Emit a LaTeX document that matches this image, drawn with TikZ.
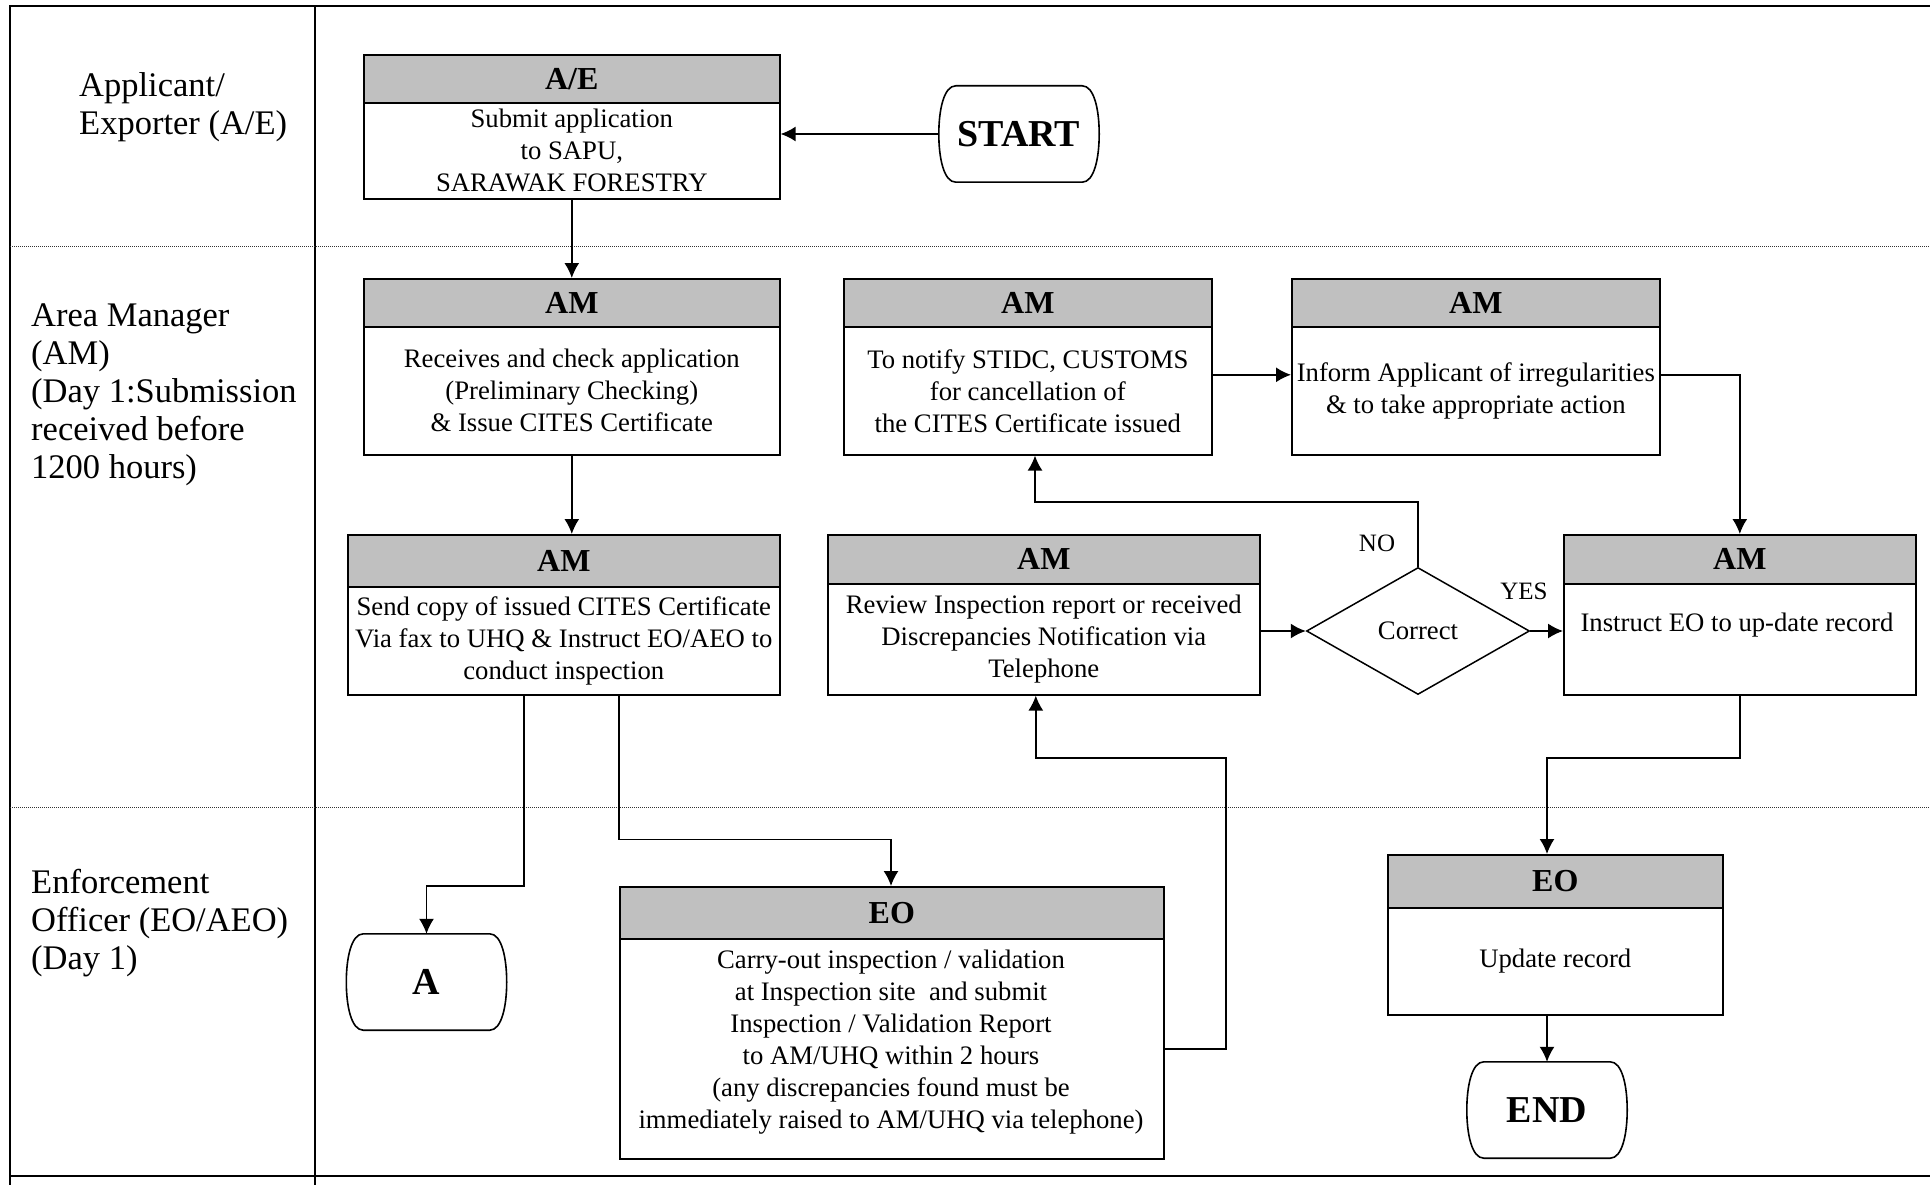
\documentclass[tikz,border=0pt]{standalone}
\usepackage{fontspec}
\setmainfont{Liberation Serif}
\usetikzlibrary{arrows.meta,shapes.geometric}
\definecolor{hgray}{RGB}{192,192,192}
\tikzset{
  hdr/.style={draw, line width=1.6pt, fill=hgray, anchor=north west, inner sep=0pt,
    font=\fontsize{32}{36}\selectfont\bfseries},
  bodybox/.style={draw, line width=1.6pt, anchor=north west, inner sep=0pt, align=center,
    font=\fontsize{26.7}{32}\selectfont},
  term/.style={inner sep=0pt, font=\fontsize{38}{42}\selectfont\bfseries},
  termline/.style={line width=1.6pt},
  conn/.style={line width=1.6pt, -{Latex[length=15pt,width=15pt]}},
  lane/.style={anchor=west, align=left, inner sep=0pt, font=\fontsize{34.5}{38}\selectfont},
  txt/.style={align=center, inner sep=0pt, font=\fontsize{26.7}{32}\selectfont},
  lbl/.style={inner sep=0pt, font=\fontsize{25}{28}\selectfont},
  frame/.style={line width=2pt},
  lanesep/.style={line width=1pt, dash pattern=on 1pt off 1pt, black!80}
}
\newcommand\mkbox[8]{%
  \node[hdr, minimum width={#3pt-#2pt}, minimum height={#5pt-#4pt}] (#1h) at (#2,#4) {#7};
  \node[bodybox, minimum width={#3pt-#2pt}, minimum height={#6pt-#5pt}] (#1) at (#2,#5) {#8};}
\newcommand\termpath[1]{%
  \draw[termline] ([xshift=17pt]#1.north west) -- ([xshift=-17pt]#1.north east)
    .. controls ([xshift=-5pt]#1.north east) and ([yshift=24pt]#1.east) .. (#1.east)
    .. controls ([yshift=-24pt]#1.east) and ([xshift=-5pt]#1.south east) .. ([xshift=-17pt]#1.south east)
    -- ([xshift=17pt]#1.south west)
    .. controls ([xshift=5pt]#1.south west) and ([yshift=-24pt]#1.west) .. (#1.west)
    .. controls ([yshift=24pt]#1.west) and ([xshift=5pt]#1.north west) .. cycle;}
\begin{document}
\begin{tikzpicture}[x=1pt,y=-1pt]
\useasboundingbox (0,0) rectangle (1930,1185);
% frame
\draw[frame] (10,1185) -- (10,6) -- (1930,6);
\draw[frame] (315,6) -- (315,1185);
\draw[frame] (10,1175.5) -- (1930,1175.5);
\draw[lanesep] (10,246) -- (1930,246);
\draw[lanesep] (10,807.5) -- (1930,807.5);
% lane labels
\node[lane] (l1) at (79,107) {Applicant/\\Exporter (A/E)};
\node[lane] (l2) at (31,395) {Area Manager\\(AM)\\(Day 1:Submission\\received before\\1200 hours)};
\node[lane] (l3) at (31,923) {Enforcement\\Officer (EO/AEO)\\(Day 1)};
% boxes
\mkbox{ae}{363}{779}{54}{102}{198}{A/E}{Submit application\\to SAPU,\\SARAWAK FORESTRY}
\mkbox{am1}{363}{779}{278}{326}{454}{AM}{Receives and check application\\(Preliminary Checking)\\\& Issue CITES Certificate}
\mkbox{am2}{347}{779}{534}{586}{694}{AM}{Send copy of issued CITES Certificate\\Via fax to UHQ \& Instruct EO/AEO to\\conduct inspection}
\mkbox{am3}{843}{1211}{278}{326}{454}{AM}{To notify STIDC, CUSTOMS\\for cancellation of\\the CITES Certificate issued}
\mkbox{am4}{1291}{1659}{278}{326}{454}{AM}{Inform Applicant of irregularities\\\& to take appropriate action}
\mkbox{am5}{827}{1259}{534}{583}{694}{AM}{Review Inspection report or received\\Discrepancies Notification via\\Telephone}
\mkbox{am6}{1563}{1915}{534}{583}{694}{AM}{}
\node[txt] (am6t) at (1737,625) {Instruct EO to up-date record};
\mkbox{eo1}{619}{1163}{886}{938}{1158}{EO}{}
\node[txt] (eo1t) at (891,1042) {Carry-out inspection / validation\\at Inspection site\ \ and submit\\Inspection / Validation Report\\to AM/UHQ within 2 hours\\(any discrepancies found must be\\immediately raised to AM/UHQ via telephone)};
\mkbox{eo2}{1387}{1722}{854}{907}{1014}{EO}{Update record}
% terminals
\node[term, minimum width=160pt, minimum height=96pt] (start) at (1019,134) {START};
\termpath{start}
\node[term, minimum width=160pt, minimum height=96pt] (end) at (1547,1110) {END};
\termpath{end}
\node[term, minimum width=160pt, minimum height=96pt] (a) at (426.5,982) {A};
\termpath{a}
% decision
\node[draw, diamond, line width=1.5pt, minimum width=223pt, minimum height=127pt, inner sep=0pt,
  aspect=1.76, font=\fontsize{26.7}{30}\selectfont] (dec) at (1418,631) {Correct};
\node[lbl] (no) at (1377,543) {NO};
\node[lbl] (yes) at (1524,591) {YES};
% connectors
\draw[conn] (start.west) -- (start.west -| ae.east);
\draw[conn] (ae.south) -- (am1h.north);
\draw[conn] (am1.south) -- (am1.south |- am2h.north);
\draw[conn] ([yshift=16pt]am3.east) -- ([yshift=16pt]am3.east -| am4.west);
\draw[conn] ([yshift=16pt]am4.east) -| (am6h.north);
\draw[conn] (am5.east |- dec.west) -- (dec.west);
\draw[conn] (dec.east) -- (dec.east -| am6.west);
\coordinate (noturn) at (1035,502);
\draw[conn] (dec.north) |- (noturn) -- (noturn |- am3.south);
\coordinate (j1) at (1547,758);
\draw[conn] (am6.south) |- (j1) -- (j1 |- eo2h.north);
\draw[conn] (end.north |- eo2.south) -- (end.north);
\coordinate (c1) at (426.5,886);
\draw[conn] ([xshift=-40pt]am2.south) |- (c1) -- (a.north);
\coordinate (c2) at (891,839.5);
\draw[conn] ([xshift=55pt]am2.south) |- (c2) -- (c2 |- eo1h.north);
\coordinate (c3) at (1226,758);
\draw[conn] (eo1.east) -| (c3) -| ([xshift=-8pt]am5.south);
\end{tikzpicture}
\end{document}
